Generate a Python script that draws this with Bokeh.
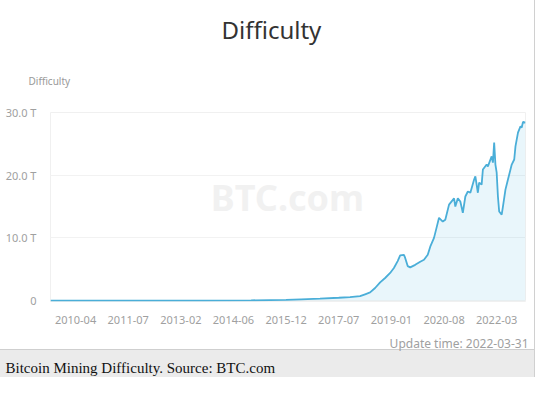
from bokeh.plotting import figure
from bokeh.models import Range1d, FixedTicker, Label, Title, ColumnDataSource
from bokeh.embed import file_html
from bokeh.resources import INLINE

# ---- data (difficulty adjustment index vs difficulty in T) ----
adjustment_index = [0, 80, 120, 160, 188, 200, 215, 230, 239, 247,
                    251, 255, 259, 263, 267, 271, 274, 277, 279, 282,
                    283, 285, 287, 291, 295, 298, 301, 303, 306, 308,
                    310, 313, 315, 318, 322, 323, 325, 327, 329, 331,
                    333, 335, 338, 339, 341, 342, 344, 345, 348, 349,
                    352, 353, 354, 355, 356, 357, 358, 360, 361, 363,
                    365, 368, 370, 371, 373, 375, 376, 377, 379]
difficulty_T = [0.0, 0.0, 0.005, 0.04, 0.1, 0.2, 0.3, 0.45, 0.55, 0.7,
                1.0, 1.3, 2.0, 2.9, 3.6, 4.4, 5.2, 6.3, 7.2, 7.3,
                6.8, 5.5, 5.3, 5.7, 6.2, 6.5, 7.3, 8.6, 10.0, 11.6,
                13.2, 12.6, 12.9, 15.3, 16.3, 15.0, 16.3, 15.8, 14.0, 16.6,
                17.4, 17.2, 19.3, 19.8, 17.2, 18.8, 18.5, 20.9, 21.7, 21.4,
                23.0, 22.0, 25.2, 21.7, 20.4, 16.6, 14.2, 13.7, 15.0, 17.7,
                19.3, 21.7, 22.5, 24.6, 26.8, 27.8, 27.6, 28.5, 28.4]
x_tick_index = [20, 62, 104, 146, 188, 230, 272, 314, 356]
x_tick_labels = ["2010-04", "2011-07", "2013-02", "2014-06", "2015-12",
                 "2017-07", "2019-01", "2020-08", "2022-03"]
y_ticks = [0, 10, 20, 30]
y_tick_labels = ["0", "10.0 T", "20.0 T", "30.0 T"]

FONT = "Noto Sans"
LINE = "#4aaed8"

src = ColumnDataSource(dict(x=adjustment_index, y=difficulty_T))

p = figure(width=535, height=377, output_backend="svg", toolbar_location=None,
           x_range=Range1d(0, 379), y_range=Range1d(-0.15, 30),
           min_border_left=50, min_border_right=10, min_border_top=112,
           min_border_bottom=76)
p.background_fill_color = "white"
p.border_fill_color = None
p.outline_line_color = "#f0f0f0"
p.styles = {
    "background": "linear-gradient(to bottom, #ffffff 0px, #ffffff 349px, "
                  "#cfcfcf 349px, #cfcfcf 350px, #ebebeb 350px, #ebebeb 100%)",
    "border-right": "1px solid #d0d0d0",
}

p.varea(x="x", y1=0, y2="y", source=src, fill_color="#4ab4dc", fill_alpha=0.12)
p.line(x="x", y="y", source=src, line_color=LINE, line_width=1.8)

# axes
p.xaxis.ticker = FixedTicker(ticks=x_tick_index)
p.xaxis.major_label_overrides = {t: l for t, l in zip(x_tick_index, x_tick_labels)}
p.yaxis.ticker = FixedTicker(ticks=y_ticks)
p.yaxis.major_label_overrides = {t: l for t, l in zip(y_ticks, y_tick_labels)}
for ax in (p.xaxis, p.yaxis):
    ax.axis_line_color = None
    ax.major_tick_line_color = None
    ax.minor_tick_line_color = None
    ax.major_label_text_color = "#a0a0a0"
    ax.major_label_text_font = FONT
    ax.major_label_text_font_size = "11px"
p.xaxis.major_label_standoff = 8
p.yaxis.major_label_standoff = 8
p.xgrid.grid_line_color = None
p.ygrid.grid_line_color = "#f2f2f2"

# watermark inside the plot area
p.add_layout(Label(x=237, y=104, x_units="screen", y_units="screen", text="BTC.com",
                   text_font=FONT, text_font_style="bold", text_font_size="36px",
                   text_color="#f1f1f1", text_align="center", text_baseline="middle",
                   level="underlay"))

# main title (outermost, top)
p.title.text = "Difficulty"
p.title.align = "left"
p.title.offset = 171
p.title.standoff = 2
p.title.text_font = FONT
p.title.text_font_size = "24px"
p.title.text_font_style = "normal"
p.title.text_color = "#333333"

# axis name, just above the plot area
p.add_layout(Title(text="Difficulty", align="left", offset=-22, standoff=50,
                   text_font=FONT, text_font_size="10px", text_font_style="normal",
                   text_color="#999999"), "above")

# footer texts (listed from the plot outward)
p.add_layout(Title(text="Update time: 2022-03-31", align="right", offset=-3, standoff=12,
                   text_font=FONT, text_font_size="12px", text_font_style="normal",
                   text_color="#a0a0a0"), "below")
p.add_layout(Title(text="Bitcoin Mining Difficulty. Source: BTC.com", align="left",
                   offset=-45, standoff=1, text_font="Liberation Serif",
                   text_font_size="15px", text_font_style="normal",
                   text_color="#111111"), "below")

open("out.html", "w").write(file_html(p, INLINE))
